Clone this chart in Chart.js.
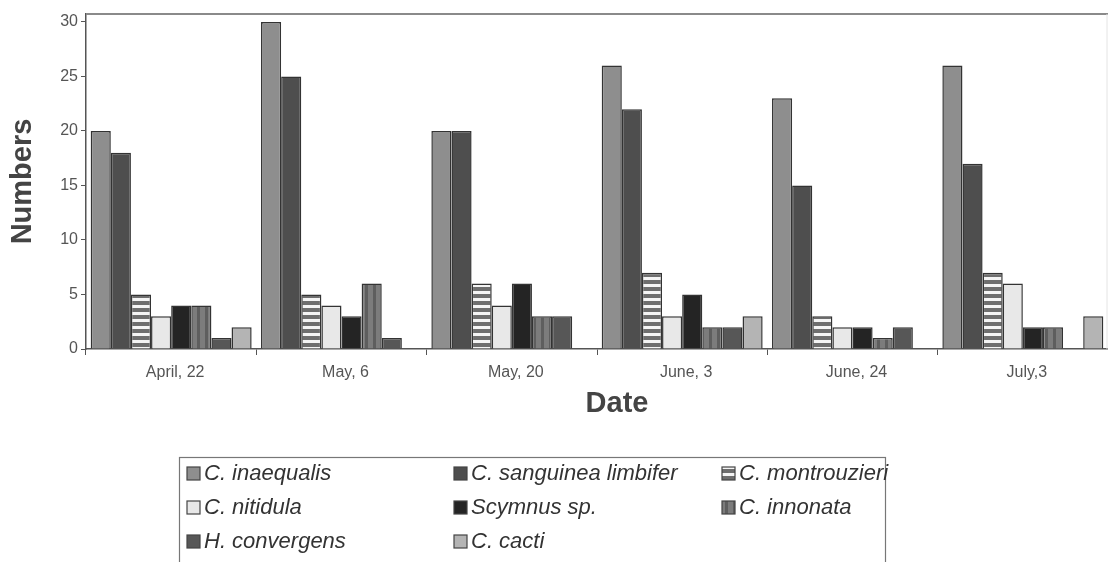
<!DOCTYPE html>
<html>
<head>
<meta charset="utf-8">
<script src="https://cdn.jsdelivr.net/npm/chart.js@4.4.0/dist/chart.umd.min.js"></script>
<style>
html, body { margin: 0; padding: 0; background: #fff; }
#wrap { width: 1108px; height: 562px; }
</style>
</head>
<body>
<div id="wrap"><canvas id="chart"></canvas></div>
<script>
const dates = ['April, 22', 'May, 6', 'May, 20', 'June, 3', 'June, 24', 'July,3'];
const species = ['C. inaequalis', 'C. sanguinea limbifer', 'C. montrouzieri', 'C. nitidula',
    'Scymnus sp.', 'C. innonata', 'H. convergens', 'C. cacti'];
const inaequalis   = [20, 30, 20, 26, 23, 26];
const sanguinea    = [18, 25, 20, 22, 15, 17];
const montrouzieri = [5, 5, 6, 7, 3, 7];
const nitidula     = [3, 4, 4, 3, 2, 6];
const scymnus      = [4, 3, 6, 5, 2, 2];
const innonata     = [4, 6, 3, 2, 1, 2];
const convergens   = [1, 1, 3, 2, 2, 0];
const cacti        = [2, 0, 0, 3, 0, 3];
const yTicks = [0, 5, 10, 15, 20, 25, 30];
const yMax = 30.73;

const FONT = '"Liberation Sans", Arial, sans-serif';

function makePattern(w, h, draw) {
    const c = document.createElement('canvas');
    c.width = w; c.height = h;
    const g = c.getContext('2d');
    draw(g);
    return g.createPattern(c, 'repeat');
}

const ctx = document.getElementById('chart').getContext('2d');

const hStripes = makePattern(4, 7, g => {
    g.fillStyle = '#6e6e6e'; g.fillRect(0, 0, 4, 7);
    g.fillStyle = '#f4f4f4'; g.fillRect(0, 4, 4, 3);
});
const vStripes = makePattern(8, 4, g => {
    g.fillStyle = '#7c7c7c'; g.fillRect(0, 0, 8, 4);
    g.fillStyle = '#5e5e5e'; g.fillRect(5, 0, 3, 4);
});

const series = [inaequalis, sanguinea, montrouzieri, nitidula, scymnus, innonata, convergens, cacti];
const fills = ['#8e8e8e', '#4e4e4e', hStripes, '#e8e8e8', '#242424', vStripes, '#575757', '#b4b4b4'];

const datasets = series.map((d, i) => ({
    label: species[i],
    data: d,
    backgroundColor: fills[i],
    borderColor: '#333',
    borderWidth: 1.5,
    categoryPercentage: 0.945,
    barPercentage: 1
}));

// legend box with three columns, drawn on the canvas
const boxLegend = {
    id: 'boxLegend',
    afterDraw(chart) {
        const c = chart.ctx;
        c.save();
        c.strokeStyle = '#777';
        c.lineWidth = 1.2;
        c.strokeRect(179.5, 457.5, 706, 120);
        const cols = [187, 454, 722];
        const rows = [473, 507, 541];
        c.font = 'italic 22px ' + FONT;
        c.textBaseline = 'middle';
        chart.data.datasets.forEach((ds, i) => {
            const x = cols[i % 3], y = rows[Math.floor(i / 3)];
            c.fillStyle = ds.backgroundColor;
            c.fillRect(x, y - 6, 13, 13);
            c.strokeStyle = '#444';
            c.lineWidth = 1.2;
            c.strokeRect(x, y - 6, 13, 13);
            c.fillStyle = '#333';
            c.fillText(ds.label, x + 17, y + 1);
        });
        // x axis title sits a little right of the plot centre in the original
        c.font = 'bold 29px ' + FONT;
        c.fillStyle = '#444';
        c.textAlign = 'center';
        c.fillText('Date', 617, 404);
        c.restore();
    }
};

// top and right edges of the plot frame
const frame = {
    id: 'frame',
    afterDatasetsDraw(chart) {
        const a = chart.chartArea, c = chart.ctx;
        c.save();
        c.strokeStyle = '#8a8a8a';
        c.lineWidth = 2;
        c.beginPath();
        c.moveTo(a.left, a.top);
        c.lineTo(a.right, a.top);
        c.stroke();
        c.strokeStyle = '#e4e4e4';
        c.lineWidth = 1;
        c.beginPath();
        c.moveTo(a.right - 1, a.top);
        c.lineTo(a.right - 1, a.bottom);
        c.stroke();
        c.restore();
    }
};

new Chart(ctx, {
    type: 'bar',
    data: { labels: dates, datasets: datasets },
    options: {
        responsive: true,
        maintainAspectRatio: false,
        animation: false,
        layout: { padding: { left: 6, right: 0, top: 14, bottom: 143 } },
        plugins: { legend: { display: false }, tooltip: { enabled: false } },
        scales: {
            x: {
                grid: { display: true, drawOnChartArea: false, offset: true, tickLength: 6, color: '#555', lineWidth: 1 },
                border: { color: '#555', width: 1.5 },
                ticks: { color: '#555', font: { family: FONT, size: 16 }, padding: 8, maxRotation: 0, labelOffset: 4 },
                title: { display: false },
                afterFit(scale) { scale.height = 70; }
            },
            y: {
                min: 0, max: yMax,
                grid: { display: true, drawOnChartArea: false, tickLength: 5, color: '#555', lineWidth: 1 },
                border: { color: '#555', width: 1.5 },
                ticks: { color: '#555', font: { family: FONT, size: 16 }, padding: 3 },
                afterBuildTicks(scale) { scale.ticks = yTicks.map(v => ({ value: v })); },
                title: { display: true, text: 'Numbers', color: '#444', padding: 0,
                    font: { family: FONT, size: 29, weight: 'bold' } },
                afterFit(scale) { scale.width = 80; }
            }
        }
    },
    plugins: [frame, boxLegend]
});
</script>
</body>
</html>
